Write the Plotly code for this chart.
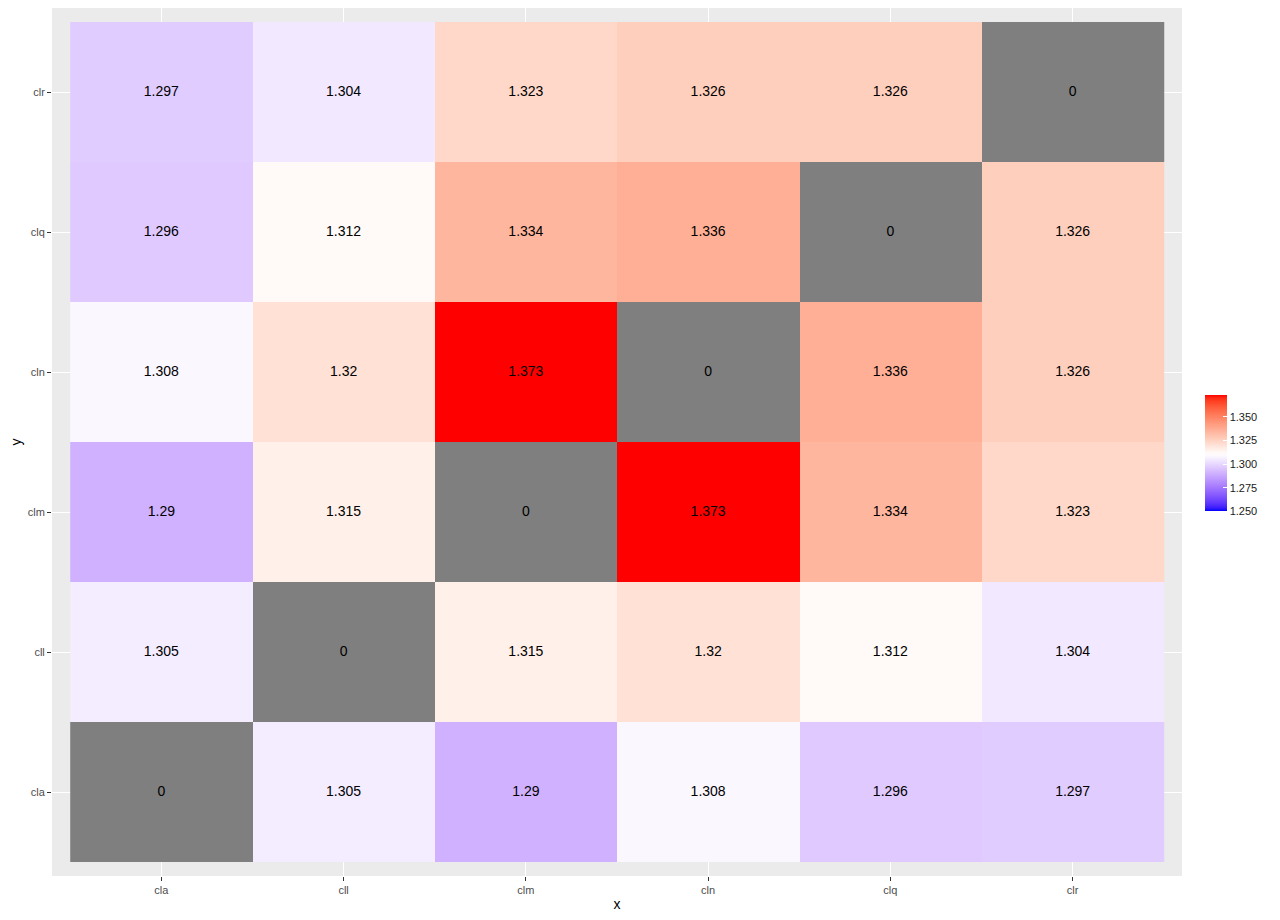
import numpy as np
import plotly.graph_objects as go

labels = ["cla", "cll", "clm", "cln", "clq", "clr"]
# rows follow the y axis from bottom (cla) to top (clr), columns follow x
z_rows = [
    [0, 1.305, 1.29, 1.308, 1.296, 1.297],
    [1.305, 0, 1.315, 1.32, 1.312, 1.304],
    [1.29, 1.315, 0, 1.373, 1.334, 1.323],
    [1.308, 1.32, 1.373, 0, 1.336, 1.326],
    [1.296, 1.312, 1.334, 1.336, 0, 1.326],
    [1.297, 1.304, 1.323, 1.326, 1.326, 0],
]
legend_ticks = [1.25, 1.275, 1.3, 1.325, 1.35]

z = np.array(z_rows, dtype=float)
zmin, zmid, zmax = 1.25, 1.31, z.max()


# ggplot-like gradient2 (blue-white-red, interpolated in Lab)
def rgb2lab(c):
    c = np.array(c) / 255.0
    c = np.where(c > 0.04045, ((c + 0.055) / 1.055) ** 2.4, c / 12.92)
    m = np.array([[0.4124, 0.3576, 0.1805], [0.2126, 0.7152, 0.0722], [0.0193, 0.1192, 0.9505]])
    xyz = m @ c / np.array([0.95047, 1.0, 1.08883])
    f = np.where(xyz > 0.008856, np.cbrt(xyz), 7.787 * xyz + 16 / 116)
    return np.array([116 * f[1] - 16, 500 * (f[0] - f[1]), 200 * (f[1] - f[2])])


def lab2rgb(lab):
    L, a, b = lab
    fy = (L + 16) / 116
    f = np.array([fy + a / 500, fy, fy - b / 200])
    xyz = np.where(f ** 3 > 0.008856, f ** 3, (f - 16 / 116) / 7.787) * np.array([0.95047, 1.0, 1.08883])
    m = np.array([[3.2406, -1.5372, -0.4986], [-0.9689, 1.8758, 0.0415], [0.0557, -0.2040, 1.0570]])
    c = m @ xyz
    c = np.where(c > 0.0031308, 1.055 * np.clip(c, 0, None) ** (1 / 2.4) - 0.055, 12.92 * c)
    c = np.clip(c, 0, 1) * 255
    return "rgb(%d,%d,%d)" % tuple(np.round(c))


blue, white, red = rgb2lab((0, 0, 255)), rgb2lab((255, 255, 255)), rgb2lab((255, 0, 0))
pm = (zmid - zmin) / (zmax - zmin)
scale = []
for t in np.linspace(0, 1, 41):
    if t <= pm:
        s = t / pm
        lab = blue + (white - blue) * s
    else:
        s = (t - pm) / (1 - pm)
        lab = white + (red - white) * s
    scale.append([float(t), lab2rgb(lab)])

zc = np.where(z == 0, np.nan, z)
mask = np.where(z == 0, 1.0, np.nan)

fig = go.Figure()
fig.add_trace(go.Heatmap(
    x=labels, y=labels, z=zc, zmin=zmin, zmax=zmax, colorscale=scale,
    hoverongaps=False,
    colorbar=dict(
        x=1.0204, xanchor="left", xpad=0, ypad=0,
        y=0.487, yanchor="middle", lenmode="pixels", len=116,
        thicknessmode="pixels", thickness=22, outlinewidth=0,
        tickvals=legend_ticks, tickformat=".3f",
        ticks="inside", ticklen=4, tickcolor="white",
        tickfont=dict(size=11, color="#1a1a1a"),
    ),
))
fig.add_trace(go.Heatmap(
    x=labels, y=labels, z=mask, colorscale=[[0, "#7f7f7f"], [1, "#7f7f7f"]],
    showscale=False, hoverongaps=False,
))
tx, ty, tt = [], [], []
for i, yl in enumerate(labels):
    for j, xl in enumerate(labels):
        tx.append(xl)
        ty.append(yl)
        tt.append(f"{z[i, j]:g}")
fig.add_trace(go.Scatter(
    x=tx, y=ty, text=tt, mode="text",
    textfont=dict(size=14, color="black"), showlegend=False, hoverinfo="skip",
))

axis_common = dict(
    type="category", categoryorder="array", categoryarray=labels,
    range=[-0.6, 5.6], showgrid=True, gridcolor="white", gridwidth=1.2,
    zeroline=False, ticks="outside", ticklen=4, tickcolor="#333333",
    tickfont=dict(size=11, color="#4d4d4d"), showline=False, automargin=False,
)
# the page body adds an 8px offset, so the figure is a bit smaller
fig.update_layout(
    width=1272, height=912,
    margin=dict(l=44, r=98, t=0, b=44),
    paper_bgcolor="white", plot_bgcolor="#ebebeb",
    font=dict(family="Liberation Sans, Arial, sans-serif"),
    xaxis=dict(axis_common, title=dict(text="x", font=dict(size=14, color="black"), standoff=3)),
    yaxis=dict(axis_common, title=dict(text="y", font=dict(size=14, color="black"), standoff=3)),
)
fig.write_html("out.html")
